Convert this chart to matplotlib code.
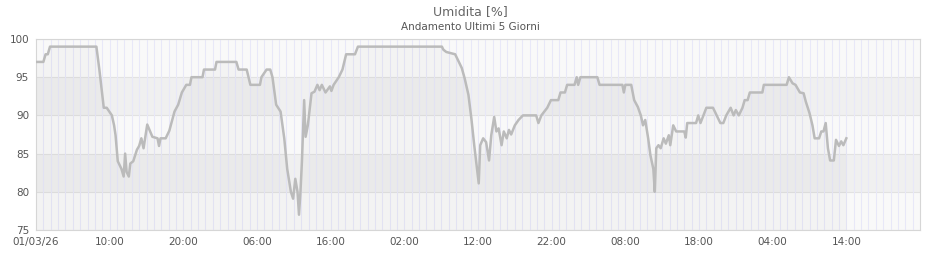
import numpy as np
import matplotlib
matplotlib.use('Agg')
import matplotlib.pyplot as plt

# hours since 01/03/26 00:00 and humidity readings (%)
hours = [0, 1.0, 1.3, 1.6, 1.9, 8.2, 8.6, 9.2, 9.6, 10.3, 10.6, 10.8, 11.1, 11.6, 11.9,
         12.1, 12.3, 12.6, 12.8, 13.2, 13.7, 14.0, 14.3, 14.6, 15.1, 15.8, 16.5, 16.7,
         16.9, 17.6, 18.1, 18.8, 19.3, 19.8, 20.4, 20.9, 21.1, 22.6, 22.8, 24.3, 24.5,
         27.2, 27.5, 28.6, 29.1, 30.4, 30.6, 31.3, 31.8, 32.1, 32.6, 33.2, 33.7, 34.1,
         34.6, 34.9, 35.2, 35.5, 35.7, 35.9, 36.1, 36.4, 36.6, 36.9, 37.4, 37.8, 38.2,
         38.5, 38.8, 39.3, 39.9, 40.1, 40.4, 41.1, 41.6, 42.1, 43.3, 43.7, 55.1, 55.3,
         55.7, 56.9, 57.3, 57.8, 58.2, 58.7, 59.1, 59.5, 59.8, 60.1, 60.3, 60.7, 61.1,
         61.5, 61.8, 62.2, 62.5, 62.8, 63.2, 63.5, 63.9, 64.2, 64.5, 65.0, 65.5, 66.1,
         67.9, 68.2, 68.6, 69.0, 69.4, 69.9, 70.9, 71.2, 71.8, 72.1, 73.1, 73.4, 73.6,
         73.9, 76.2, 76.5, 79.6, 79.8, 80.0, 80.8, 81.2, 81.7, 82.1, 82.4, 82.7, 83.1,
         83.4, 83.8, 84.0, 84.2, 84.5, 84.8, 85.2, 85.5, 85.9, 86.1, 86.5, 86.9, 88.0,
         88.2, 88.4, 89.6, 89.9, 90.2, 90.6, 91.0, 91.9, 92.4, 92.9, 93.3, 93.7, 94.3,
         94.7, 95.0, 95.4, 95.9, 96.2, 96.6, 96.9, 98.6, 98.8, 101.9, 102.2, 102.7,
         103.1, 103.4, 103.7, 104.2, 104.5, 105.0, 105.4, 105.7, 106.3, 106.6, 106.9,
         107.2, 107.5, 107.8, 108.3, 108.6, 109.0, 109.3, 109.6, 110.0]
humidity = [97, 97, 98, 98, 99, 99, 96, 91, 91, 90, 88.7, 87.4, 84, 83, 82,
            85, 82.6, 82, 83.7, 84, 85.5, 86, 87, 85.7, 88.8, 87.2, 87, 86,
            87, 87, 88, 90.5, 91.4, 93, 94, 94, 95, 95, 96, 96, 97,
            97, 96, 96, 94, 94, 95, 96, 96, 95, 91.4, 90.5, 87, 83,
            80, 79.1, 81.7, 80, 77, 80, 84, 92, 87.2, 88.7, 92.9, 93.1, 94,
            93.3, 94, 93, 93.8, 93.2, 94, 95, 96, 98, 98, 99, 99, 98.6,
            98.3, 98, 97.2, 96.2, 94.8, 92.7, 89.6, 86, 83.5, 81.1, 86.1, 87, 86.5,
            84.1, 87.4, 89.8, 87.9, 88.3, 86.1, 87.9, 87, 88.1, 87.5, 88.7, 89.4, 90,
            90, 89, 90, 90.5, 91, 92, 92, 93, 93, 94, 94, 95, 94,
            95, 95, 94, 94, 93, 94, 94, 92, 91.1, 90, 88.7, 89.4, 87,
            84.8, 83, 80, 85.7, 86.1, 85.7, 87, 86.3, 87.4, 86.1, 88.7, 87.9, 87.9,
            87.1, 89, 89, 90, 89, 90, 91, 91, 90, 89, 89, 90, 91,
            90, 90.7, 90, 91, 92, 92, 93, 93, 94, 94, 95, 94.2,
            94, 93.5, 93, 92.9, 91.8, 90.3, 88.7, 87, 87, 87.9, 87.9,
            89, 85.7, 84.1, 84.1, 86.8, 86, 86.6, 86.1, 87]

tick_hours = [0, 10, 20, 30, 40, 50, 60, 70, 80, 90, 100, 110]
tick_labels = ['01/03/26', '10:00', '20:00', '06:00', '16:00', '02:00',
               '12:00', '22:00', '08:00', '18:00', '04:00', '14:00']
y_ticks = [75, 80, 85, 90, 95, 100]

fig = plt.figure(figsize=(9.4, 2.6), dpi=100)
ax = fig.add_axes([36/940, 1-230/260, (920-36)/940, (230-39)/260])

# alternating horizontal bands
for lo, hi in zip(y_ticks[:-1], y_ticks[1:]):
    col = '#f0f0f0' if lo in (80, 90) else '#f9f9f9'
    ax.axhspan(lo, hi, color=col, zorder=0, lw=0)
for y in y_ticks:
    ax.axhline(y, color='#e2e2e2', lw=0.8, zorder=1)
# hourly vertical grid
for h in range(1, 120):
    ax.axvline(h, color='#e8e8f8', lw=0.8, zorder=1)

ax.fill_between(hours, humidity, 75, color='black', alpha=0.025, lw=0, zorder=2)
ax.plot(hours, humidity, color='#bbbbbb', lw=1.8, zorder=3)

ax.set_xlim(0, 120)
ax.set_ylim(75, 100)
ax.set_yticks(y_ticks)
ax.set_xticks(tick_hours)
ax.set_xticklabels(tick_labels)
ax.tick_params(length=0, labelsize=7.5, colors='#555555', pad=5)
for s in ax.spines.values():
    s.set_color('#d6d6d6')
    s.set_linewidth(0.8)

fig.text(0.5, 0.955, 'Umidita [%]', ha='center', va='center', fontsize=9, color='#666666')
fig.text(0.5, 0.895, 'Andamento Ultimi 5 Giorni', ha='center', va='center', fontsize=7.5, color='#555555')

plt.savefig('out.png', dpi=100)
plt.close()
